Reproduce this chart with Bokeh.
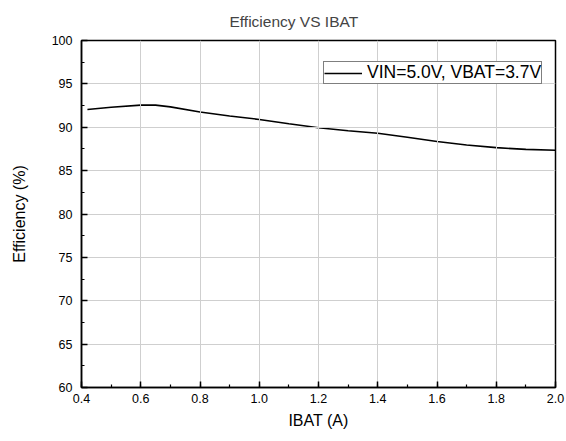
from bokeh.plotting import figure
from bokeh.models import Range1d, SingleIntervalTicker, NumeralTickFormatter, Legend, LegendItem
from bokeh.embed import file_html
from bokeh.resources import INLINE

ibat = [0.42, 0.5, 0.6, 0.65, 0.7, 0.8, 0.9, 1.0, 1.1, 1.2, 1.3, 1.4, 1.5, 1.6, 1.7, 1.8, 1.9, 2.0]
efficiency = [92.05, 92.3, 92.55, 92.55, 92.35, 91.75, 91.3, 90.9, 90.4, 89.95, 89.6, 89.3, 88.85, 88.35, 87.95, 87.65, 87.45, 87.35]
series_name = "VIN=5.0V, VBAT=3.7V"

FONT = "Liberation Sans"

xticker = SingleIntervalTicker(interval=0.2, num_minor_ticks=2)
yticker = SingleIntervalTicker(interval=5, num_minor_ticks=2)

p = figure(frame_width=474, frame_height=347, output_backend="svg", toolbar_location=None,
           x_range=Range1d(0.4, 2.0), y_range=Range1d(60, 100),
           min_border_left=81, min_border_top=40, min_border_right=10, min_border_bottom=52,
           title="Efficiency VS IBAT")

p.background_fill_color = None
p.border_fill_color = "white"

p.title.text_font = FONT
p.title.text_font_size = "15.5px"
p.title.text_font_style = "normal"
p.title.align = "left"
p.title.offset = 148
p.title.standoff = 21

p.outline_line_color = "black"
p.outline_line_width = 1.5
p.outline_line_alpha = 1

p.xaxis.ticker = xticker
p.yaxis.ticker = yticker
p.xgrid.ticker = xticker
p.ygrid.ticker = yticker
p.xaxis.formatter = NumeralTickFormatter(format="0.0")

for ax in (p.xaxis, p.yaxis):
    ax.axis_line_color = "black"
    ax.axis_line_width = 1.5
    ax.major_tick_in = 6
    ax.major_tick_out = 0
    ax.minor_tick_in = 3
    ax.minor_tick_out = 0
    ax.major_tick_line_color = "black"
    ax.major_tick_line_width = 1.5
    ax.minor_tick_line_color = "black"
    ax.minor_tick_line_width = 1.2
    ax.major_label_text_font = FONT
    ax.major_label_text_font_size = "12.5px"
    ax.major_label_text_color = "black"
    ax.axis_label_text_font = FONT
    ax.axis_label_text_font_size = "16px"
    ax.axis_label_text_font_style = "normal"
    ax.axis_label_text_color = "black"

p.xaxis.axis_label = "IBAT (A)"
p.yaxis.axis_label = "Efficiency (%)"
p.xaxis.major_label_standoff = 6
p.yaxis.major_label_standoff = 9
p.xaxis.axis_label_standoff = 6
p.yaxis.axis_label_standoff = 21

for g in (p.xgrid, p.ygrid):
    g.grid_line_color = "#cfcfcf"
    g.grid_line_width = 1
    g.grid_line_alpha = 1
    g.level = "glyph"

r = p.line(ibat, efficiency, line_color="black", line_width=1.6)

legend = Legend(items=[LegendItem(label=series_name, renderers=[r])], location=(242, 303))
legend.border_line_color = "black"
legend.border_line_width = 1
legend.background_fill_color = "white"
legend.background_fill_alpha = 1
legend.padding = 0
legend.margin = 0
legend.spacing = 0
legend.glyph_width = 38
legend.glyph_height = 14
legend.label_height = 14
legend.label_standoff = 5
legend.label_text_font = FONT
legend.label_text_font_size = "17.5px"
legend.label_text_line_height = 0.9
legend.label_text_color = "black"
p.add_layout(legend, "center")

open("out.html", "w").write(file_html(p, INLINE))
